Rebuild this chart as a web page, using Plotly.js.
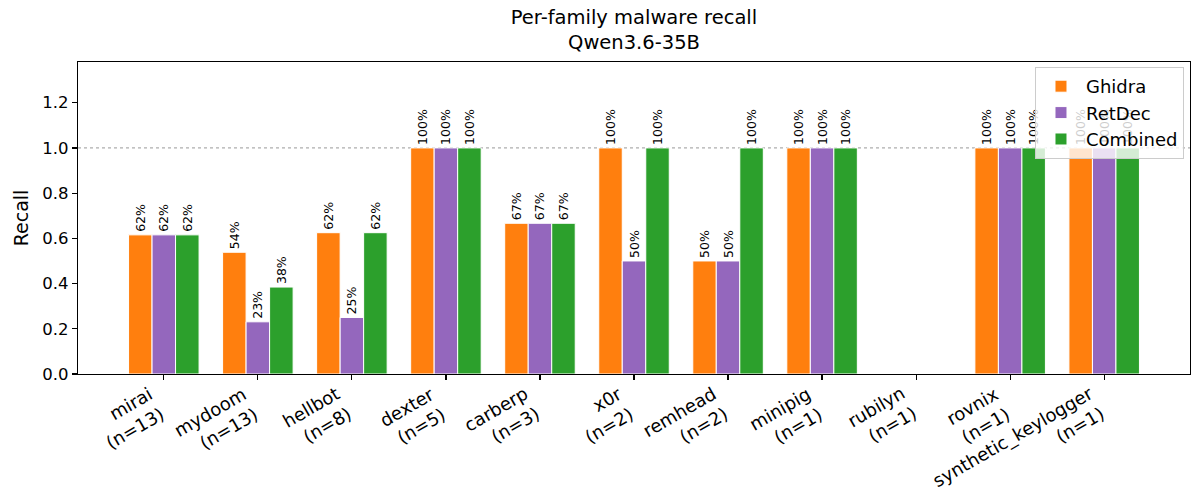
<!DOCTYPE html>
<html>
<head>
<meta charset="utf-8">
<script src="https://cdn.plot.ly/plotly-3.0.1.min.js"></script>
<style>html,body{margin:0;padding:0;background:#fff;}#chart{width:1198px;height:496px;}</style>
</head>
<body>
<div id="chart"></div>
<script>
const families = ["mirai", "mydoom", "hellbot", "dexter", "carberp", "x0r", "remhead", "minipig", "rubilyn", "rovnix", "synthetic_keylogger"];
const sampleCounts = [13, 13, 8, 5, 3, 2, 2, 1, 1, 1, 1];
const ghidraRecall   = [0.6154, 0.5385, 0.625, 1.0, 0.6667, 1.0, 0.5, 1.0, 0.0, 1.0, 1.0];
const retdecRecall   = [0.6154, 0.2308, 0.25,  1.0, 0.6667, 0.5, 0.5, 1.0, 0.0, 1.0, 1.0];
const combinedRecall = [0.6154, 0.3846, 0.625, 1.0, 0.6667, 1.0, 1.0, 1.0, 0.0, 1.0, 1.0];
const seriesNames = ["Ghidra", "RetDec", "Combined"];
const seriesColors = ["#ff7f0e", "#9467bd", "#2ca02c"];
const yTicks = [0.0, 0.2, 0.4, 0.6, 0.8, 1.0, 1.2];

const font = "DejaVu Sans, sans-serif";

// round half to even, like Python's percent formatting
function pct(v) {
  const x = v * 100;
  const f = Math.floor(x);
  const d = x - f;
  let r;
  if (Math.abs(d - 0.5) < 1e-9) r = (f % 2 === 0) ? f : f + 1;
  else r = Math.round(x);
  return r + "%";
}

const traces = [ghidraRecall, retdecRecall, combinedRecall].map((vals, k) => ({
  type: "bar",
  name: seriesNames[k],
  x: families.map((_, i) => i),
  y: vals,
  marker: {color: seriesColors[k], line: {color: "#ffffff", width: 1}},
  text: vals.map(v => v > 0 ? pct(v) : ""),
  textposition: "outside",
  textangle: -90,
  constraintext: "none",
  textfont: {family: font, size: 12.5, color: "#000"},
  cliponaxis: false,
  hoverinfo: "skip"
}));

const tickAnnotations = families.map((f, i) => ({
  x: i, xref: "x", y: 0, yref: "paper",
  text: f + "<br>(n=" + sampleCounts[i] + ")",
  showarrow: false,
  textangle: -30,
  xanchor: "right", yanchor: "top", align: "right",
  xshift: 6, yshift: -6,
  font: {family: font, size: 18, color: "#000"}
}));

const layout = {
  width: 1198, height: 496,
  margin: {l: 78, r: 8, t: 62, b: 122},
  paper_bgcolor: "#fff", plot_bgcolor: "#fff",
  font: {family: font, color: "#000"},
  title: {
    text: "Per-family malware recall<br>Qwen3.6-35B",
    font: {family: font, size: 19.5, color: "#000"},
    x: 0.5, xref: "paper", xanchor: "center",
    y: 1, yref: "paper", yanchor: "bottom",
    pad: {b: 38}
  },
  barmode: "group", bargap: 0.25, bargroupgap: 0,
  showlegend: true,
  legend: {
    x: 0.9946, xanchor: "right", y: 0.984, yanchor: "top",
    bgcolor: "rgba(255,255,255,0.8)", bordercolor: "#cccccc", borderwidth: 1,
    font: {family: font, size: 18, color: "#000"},
    traceorder: "normal", itemwidth: 40
  },
  xaxis: {
    type: "linear",
    range: [-0.9125, 10.9125],
    tickvals: families.map((_, i) => i),
    showticklabels: false,
    ticks: "outside", ticklen: 5, tickwidth: 1.2, tickcolor: "#000",
    showline: true, linecolor: "#000", linewidth: 1.3, mirror: true,
    showgrid: false, zeroline: false
  },
  yaxis: {
    range: [0, 1.38],
    tickvals: yTicks,
    ticktext: yTicks.map(v => v.toFixed(1)),
    ticks: "outside", ticklen: 5, tickwidth: 1.2, tickcolor: "#000",
    tickfont: {family: font, size: 16.5, color: "#000"},
    showline: true, linecolor: "#000", linewidth: 1.3, mirror: true,
    showgrid: false, zeroline: false,
    title: {text: "Recall", font: {family: font, size: 19, color: "#000"}, standoff: 8}
  },
  annotations: tickAnnotations,
  shapes: [{
    type: "line", xref: "paper", x0: 0, x1: 1, yref: "y", y0: 1.0, y1: 1.0,
    line: {color: "#999999", width: 1, dash: "dot"}, layer: "below"
  }]
};

Plotly.newPlot("chart", traces, layout, {displayModeBar: false, staticPlot: true});
</script>
</body>
</html>
